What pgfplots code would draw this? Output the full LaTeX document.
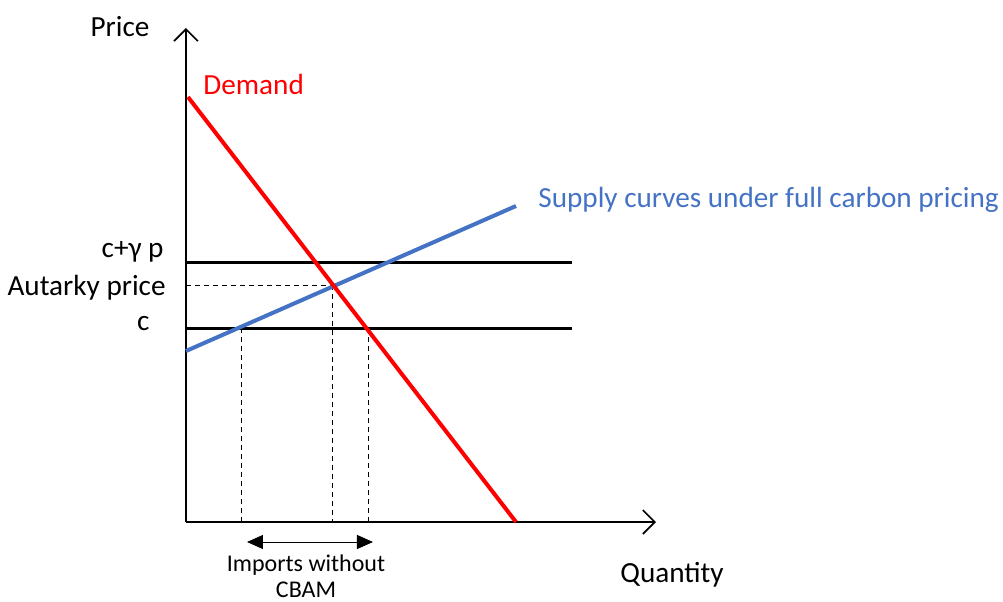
\documentclass[border=0pt]{standalone}
\usepackage{fontspec}
\setmainfont{Carlito}
\usepackage{pgfplots}
\pgfplotsset{compat=1.18}
\usetikzlibrary{arrows.meta}
\definecolor{dred}{RGB}{255,0,0}
\definecolor{sblue}{RGB}{68,114,196}

\tikzset{
  lab/.style={inner sep=0pt, font=\fontsize{14.6pt}{16pt}\selectfont},
  small lab/.style={inner sep=0pt, font=\fontsize{12pt}{14pt}\selectfont},
}

\begin{document}
\begin{tikzpicture}
\begin{axis}[
  x=0.5pt, y=0.5pt,
  xmin=186, xmax=656,
  ymin=79, ymax=573,
  axis lines=left,
  xtick=\empty, ytick=\empty,
  clip=false,
  axis line style={line width=1pt},
  x axis line style={-{Straight Barb[length=6pt,width=12pt,line width=0.8pt]}},
  y axis line style={-{Straight Barb[length=6pt,width=12pt,line width=0.8pt]}},
]
% frame of the whole picture
\path (axis cs:0,0) rectangle (axis cs:1003,601);

% horizontal price lines
\addplot[black, line width=1.5pt] coordinates {(186,339) (572,339)}; % c+gamma p
\addplot[black, line width=1.5pt] coordinates {(186,273) (572,273)}; % c

% dashed guides
\addplot[black, line width=0.5pt, dash pattern=on 2.5pt off 2pt] coordinates {(186,316) (333,316)};
\addplot[black, line width=0.5pt, dash pattern=on 2.5pt off 2pt] coordinates {(242,273) (242,79)};
\addplot[black, line width=0.5pt, dash pattern=on 2.5pt off 2pt] coordinates {(333,316) (333,79)};
\addplot[black, line width=0.5pt, dash pattern=on 2.5pt off 2pt] coordinates {(369,273) (369,79)};

% supply and demand
\addplot[sblue, line width=2pt] coordinates {(186,250) (516,395)};
\addplot[dred, line width=2pt] coordinates {(188,504) (516,79)};

% imports arrow
\addplot[black, line width=0.5pt, {Triangle[length=8pt,width=7pt]}-{Triangle[length=8pt,width=7pt]}] coordinates {(247,59) (373,59)};

% labels
\node[lab, anchor=base] at (axis cs:120,565) {Price};
\node[lab, anchor=base west] at (axis cs:620,19) {Quantity};
\node[lab, anchor=base west, text=dred] at (axis cs:203,507) {Demand};
\node[lab, anchor=base west, text=sblue] at (axis cs:538,394) {Supply curves under full carbon pricing};
\node[lab, anchor=base east] at (axis cs:164,344) {c+γ p};
\node[lab, anchor=base east] at (axis cs:166,306) {Autarky price};
\node[lab, anchor=base east] at (axis cs:150,271) {c};
\node[small lab, anchor=base] at (axis cs:306,30) {Imports without};
\node[small lab, anchor=base] at (axis cs:306,4) {CBAM};
\end{axis}
\end{tikzpicture}
\end{document}
